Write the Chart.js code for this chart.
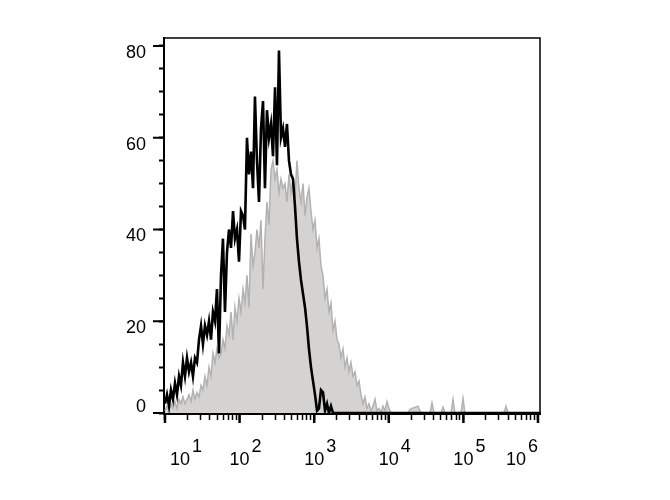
<!DOCTYPE html>
<html><head><meta charset="utf-8">
<script src="https://cdn.jsdelivr.net/npm/chart.js@4/dist/chart.umd.min.js"></script>
<style>html,body{margin:0;padding:0;background:#fff}canvas{display:block}</style>
</head><body>
<canvas id="c" width="670" height="500"></canvas>
<script>
// Histogram bin centres, log10 of fluorescence intensity
const binLog = [
1.000,1.027,1.054,1.080,1.107,1.134,1.161,1.188,1.214,1.241,
1.268,1.295,1.322,1.349,1.375,1.402,1.429,1.456,1.483,1.509,
1.536,1.563,1.590,1.617,1.643,1.670,1.697,1.724,1.751,1.777,
1.804,1.831,1.858,1.885,1.912,1.938,1.965,1.992,2.019,2.046,
2.072,2.099,2.126,2.153,2.180,2.206,2.233,2.260,2.287,2.314,
2.340,2.367,2.394,2.421,2.448,2.475,2.501,2.528,2.555,2.582,
2.609,2.635,2.662,2.689,2.716,2.743,2.769,2.796,2.823,2.850,
2.877,2.903,2.930,2.957,2.984,3.011,3.038,3.064,3.091,3.118,
3.145,3.172,3.198,3.225,3.252,3.279,3.306,3.332,3.359,3.386,
3.413,3.440,3.466,3.493,3.520,3.547,3.574,3.601,3.627,3.654,
3.681,3.708,3.735,3.761,3.788,3.815,3.842,3.869,3.895,3.922,
3.949,3.976,4.003,4.029,
4.083,4.150,4.257,4.284,4.311,4.391,4.418,4.445,4.552,4.579,
4.606,4.700,4.727,4.753,4.834,4.861,4.887,4.968,4.995,5.021,
5.544,5.571,5.598,6.027
];
// Stained sample (black line)
const blackCounts = [
2,4,1.5,5,3,6.5,4,8,6,11,
8,12,9,11,8,12,11,16,19,15,
19,17,20,16,22,20,27,13,30,38,
22,35,40,36,44,38,40,33,44,43,
40,60,52,57,49,69,55,46,62,68,
49,66,60,63,56,71,54,79,60,62,
58,63,55,52,51,45,38,33,29,26,
23,19,14,10,7,4,0.5,1,5,4.5,
0.5,2,0,1.5,0,0,0,0,0,0,
0,0,0,0,0,0,0,0,0,0,
0,0,0,0,0,0,0,0,0,0,
0,0,0,0,
0,0,0,0,0,0,0,0,0,0,
0,0,0,0,0,0,0,0,0,0,
0,0,0,0
];
// Control (grey filled)
const greyCounts = [
0.5,1.5,0.5,2,1,2.5,1,3,2,3.5,
2,3,4,2.5,5,3,4.5,3.5,6,5,
8,6,10,8,13,11,14,12,13,16,
14,19,17,22,16,23,20,25,22,27,
24,30,23,39,32,35,40,36,42,27,
38,46,41,53,55,51,53,48,51,49,
50,46,52,48,51,47,55,49,46,50,
43,47,49,44,40,42,36,38,32,30,
25,27,22,24,18,20,16,15,12,14,
10,12,9,11,8,9,6,7,4,2,
3.5,1,2,0.5,1.5,3,0.5,1,0,1.5,
0.5,2.5,1,0,
0,0,0,0.8,1,1.5,0.5,0,0,2.2,
0,0,1.3,0,0,3,0,0,3.2,0,
0,1.5,0,0
];
const yTickValues = [0,5,10,15,20,25,30,35,40,45,50,55,60,65,70,75,80];
const yLabelValues = [0,20,40,60,80];
const xDecades = [10,100,1000,10000,100000,1000000];
const xExponents = ['1','2','3','4','5','6'];
const xMinorMultipliers = [1,2,3,4,5,6,7,8,9];
const xTickValues = xDecades.slice(0,-1).flatMap(d => xMinorMultipliers.map(m => d*m)).concat([1000000]);

const FONT = '"Liberation Sans", Arial, sans-serif';
const toPoints = counts => binLog.map((l,i) => ({x: Math.pow(10,l), y: counts[i]}));

const axisDecor = {
  id: 'axisDecor',
  afterDraw(chart) {
    const {ctx, chartArea: a, scales: {x, y}} = chart;
    ctx.save();
    ctx.strokeStyle = '#000';
    ctx.lineWidth = 1.5;
    ctx.beginPath();
    ctx.moveTo(a.left, a.top); ctx.lineTo(a.right, a.top); ctx.lineTo(a.right, a.bottom);
    ctx.stroke();
    ctx.lineWidth = 2;
    yLabelValues.forEach(v => {
      const py = y.getPixelForValue(v);
      ctx.beginPath(); ctx.moveTo(a.left - 11, py); ctx.lineTo(a.left, py); ctx.stroke();
    });
    ctx.lineWidth = 2.5;
    xDecades.forEach(v => {
      const px = x.getPixelForValue(v);
      ctx.beginPath(); ctx.moveTo(px, a.bottom); ctx.lineTo(px, a.bottom + 10); ctx.stroke();
    });
    ctx.fillStyle = '#000';
    ctx.font = '18px ' + FONT;
    ctx.textAlign = 'left';
    ctx.textBaseline = 'alphabetic';
    xDecades.forEach((v,i) => {
      const px = x.getPixelForValue(v);
      const wb = ctx.measureText('10').width, we = ctx.measureText(xExponents[i]).width, gap = 2;
      const total = wb + gap + we;
      let left = px + 6 - total/2;
      left = Math.max(left, a.left + 6);
      left = Math.min(left, a.right - 2 - total);
      ctx.fillText('10', left, a.bottom + 52);
      ctx.fillText(xExponents[i], left + wb + gap, a.bottom + 39);
    });
    ctx.restore();
  }
};

new Chart(document.getElementById('c'), {
  type: 'line',
  data: { datasets: [
    { label: 'Stained', data: toPoints(blackCounts), borderColor: '#000', borderWidth: 2.6,
      pointRadius: 0, fill: false, tension: 0 },
    { label: 'Control', data: toPoints(greyCounts), borderColor: '#b2b2b2', backgroundColor: '#d5d3d2',
      borderWidth: 1.5, pointRadius: 0, fill: 'origin', tension: 0 }
  ]},
  options: {
    responsive: false, animation: false, devicePixelRatio: 1,
    layout: { padding: { left: 0, right: 130, top: 38, bottom: 0 } },
    plugins: { legend: { display: false }, tooltip: { enabled: false } },
    scales: {
      x: {
        type: 'logarithmic', min: 9.7, max: 1064000,
        afterBuildTicks: s => { s.ticks = xTickValues.map(v => ({value: v})); },
        afterFit: s => { s.height = 87; },
        grid: { drawOnChartArea: false, drawTicks: true, tickLength: 7, tickWidth: 1.5, tickColor: '#000' },
        border: { display: true, color: '#000', width: 3 },
        ticks: { autoSkip: false, maxRotation: 0, callback: () => '' }
      },
      y: {
        min: 0, max: 81.74,
        afterBuildTicks: s => { s.ticks = yTickValues.map(v => ({value: v})); },
        afterFit: s => { s.width = 164; },
        grid: { drawOnChartArea: false, tickLength: 5, tickWidth: 2, tickColor: '#000' },
        border: { display: true, color: '#000', width: 2 },
        ticks: {
          autoSkip: false, padding: 13, labelOffset: 7, color: '#000',
          font: c => ({ family: FONT, size: 18, lineHeight: (c.tick && c.tick.value === 0) ? 25/18 : 1.2 }),
          callback: v => v === 0 ? ['0',''] : (yLabelValues.includes(v) ? String(v) : '')
        }
      }
    }
  },
  plugins: [axisDecor]
});
</script>
</body></html>
